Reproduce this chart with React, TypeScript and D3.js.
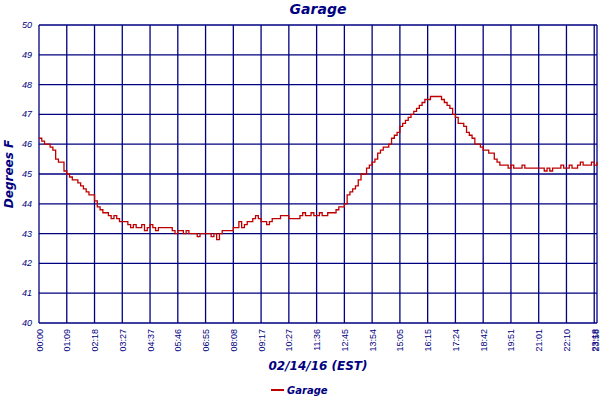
import React, { useRef, useEffect } from 'react';
import * as d3 from 'd3';

// garage temperature samples (evenly spaced by sample)
const temps: number[] = [
  46.2, 46.1, 46.0, 46.0, 45.9, 45.8, 45.5, 45.4, 45.4, 45.1,
  45.0, 44.9, 44.8, 44.8, 44.7, 44.6, 44.5, 44.4, 44.3, 44.3,
  44.1, 43.9, 43.8, 43.7, 43.7, 43.6, 43.5, 43.6, 43.5, 43.4,
  43.4, 43.4, 43.3, 43.2, 43.3, 43.2, 43.2, 43.3, 43.1, 43.2,
  43.3, 43.2, 43.1, 43.2, 43.2, 43.2, 43.2, 43.2, 43.1, 43.0,
  43.1, 43.1, 43.0, 43.1, 43.0, 43.0, 43.0, 42.9, 43.0, 43.0,
  43.0, 43.0, 42.9, 43.0, 42.8, 43.0, 43.1, 43.1, 43.1, 43.1,
  43.2, 43.2, 43.4, 43.2, 43.3, 43.4, 43.4, 43.5, 43.6, 43.5,
  43.4, 43.4, 43.3, 43.4, 43.5, 43.5, 43.5, 43.6, 43.6, 43.6,
  43.5, 43.5, 43.5, 43.5, 43.6, 43.7, 43.6, 43.6, 43.7, 43.6,
  43.6, 43.7, 43.6, 43.6, 43.7, 43.7, 43.7, 43.8, 43.9, 43.9,
  44.0, 44.3, 44.4, 44.5, 44.6, 44.8, 45.0, 45.0, 45.2, 45.3,
  45.4, 45.5, 45.7, 45.8, 45.9, 45.9, 46.0, 46.2, 46.3, 46.4,
  46.6, 46.7, 46.8, 46.9, 47.0, 47.1, 47.2, 47.3, 47.4, 47.5,
  47.5, 47.6, 47.6, 47.6, 47.6, 47.5, 47.4, 47.3, 47.2, 47.0,
  46.9, 46.7, 46.7, 46.6, 46.4, 46.3, 46.2, 46.0, 46.0, 45.9,
  45.8, 45.8, 45.7, 45.7, 45.5, 45.4, 45.3, 45.3, 45.3, 45.2,
  45.3, 45.2, 45.2, 45.2, 45.3, 45.2, 45.2, 45.2, 45.2, 45.2,
  45.2, 45.2, 45.1, 45.2, 45.1, 45.2, 45.2, 45.2, 45.3, 45.2,
  45.2, 45.3, 45.2, 45.2, 45.3, 45.4, 45.3, 45.3, 45.3, 45.4,
  45.3, 45.4,
];

// one label every 10 samples, plus the last sample
const tickLabels: string[] = [
  '00:00', '01:09', '02:18', '03:27', '04:37', '05:46', '06:55', '08:08',
  '09:17', '10:27', '11:36', '12:45', '13:54', '15:05', '16:15', '17:24',
  '18:42', '19:51', '21:01', '22:10', '23:18',
];
const lastLabel = '23:58';
const tickStep = 10;

const yTicks: number[] = [40, 41, 42, 43, 44, 45, 46, 47, 48, 49, 50];

const NAVY = '#000080';
const RED = '#c00000';
const BOLD = '"DejaVu Sans", sans-serif';
const PLAIN = '"Liberation Sans", Arial, sans-serif';

const App: React.FC = () => {
  const svgRef = useRef<SVGSVGElement>(null);

  useEffect(() => {
    if (!svgRef.current) return;
    const svg = d3.select(svgRef.current);
    svg.selectAll('*').remove();

    const left = 39, right = 597, top = 25, bottom = 323;
    const x = d3.scaleLinear().domain([0, temps.length - 1]).range([left, right]);
    const y = d3.scaleLinear().domain([40, 50]).range([bottom, top]);

    const ticks = tickLabels.map((l, i) => ({ label: l, idx: i * tickStep }));
    ticks.push({ label: lastLabel, idx: temps.length - 1 });

    // grid
    const grid = svg.append('g').attr('stroke', NAVY).attr('stroke-width', 1.3);
    grid.selectAll('line.h').data(yTicks).join('line')
      .attr('x1', left).attr('x2', right)
      .attr('y1', d => y(d)).attr('y2', d => y(d));
    grid.selectAll('line.v').data(ticks).join('line')
      .attr('x1', d => x(d.idx)).attr('x2', d => x(d.idx))
      .attr('y1', top).attr('y2', bottom);

    // y labels
    svg.append('g').selectAll('text').data(yTicks).join('text')
      .attr('x', 32).attr('y', d => y(d) + 3)
      .attr('text-anchor', 'end')
      .attr('font-family', PLAIN).attr('font-style', 'italic').attr('font-size', 9)
      .attr('fill', NAVY)
      .text(d => d);

    // x labels, rotated; keep the last one inside the picture
    svg.append('g').selectAll('text').data(ticks).join('text')
      .attr('transform', d => `translate(${Math.min(x(d.idx) + 3.5, 599)},${bottom + 6}) rotate(-90)`)
      .attr('text-anchor', 'end')
      .attr('font-family', PLAIN).attr('font-size', 9)
      .attr('fill', NAVY)
      .text(d => d.label);

    // the series
    const line = d3.line<number>()
      .x((_, i) => x(i))
      .y(d => y(d))
      .curve(d3.curveStepAfter);
    svg.append('path').datum(temps)
      .attr('fill', 'none').attr('stroke', RED).attr('stroke-width', 1.3)
      .attr('d', line);

    // titles
    svg.append('text')
      .attr('x', (left + right) / 2).attr('y', 14)
      .attr('text-anchor', 'middle')
      .attr('font-family', BOLD).attr('font-weight', 'bold').attr('font-style', 'italic')
      .attr('font-size', 14).attr('fill', NAVY)
      .text('Garage');

    svg.append('text')
      .attr('transform', `translate(13,${(top + bottom) / 2}) rotate(-90)`)
      .attr('text-anchor', 'middle')
      .attr('font-family', BOLD).attr('font-weight', 'bold').attr('font-style', 'italic')
      .attr('font-size', 12).attr('fill', NAVY)
      .text('Degrees F');

    svg.append('text')
      .attr('x', (left + right) / 2).attr('y', 370)
      .attr('text-anchor', 'middle')
      .attr('font-family', BOLD).attr('font-weight', 'bold').attr('font-style', 'italic')
      .attr('font-size', 12).attr('fill', NAVY)
      .text('02/14/16 (EST)');

    // legend
    svg.append('line')
      .attr('x1', 271).attr('x2', 284).attr('y1', 390).attr('y2', 390)
      .attr('stroke', RED).attr('stroke-width', 2);
    svg.append('text')
      .attr('x', 287).attr('y', 393.5)
      .attr('font-family', BOLD).attr('font-weight', 'bold').attr('font-style', 'italic')
      .attr('font-size', 10).attr('fill', NAVY)
      .text('Garage');
  }, []);

  return (
    <svg
      ref={svgRef}
      width={600}
      height={400}
      style={{ position: 'fixed', left: 0, top: 0, background: '#fff' }}
    />
  );
};

export default App;
